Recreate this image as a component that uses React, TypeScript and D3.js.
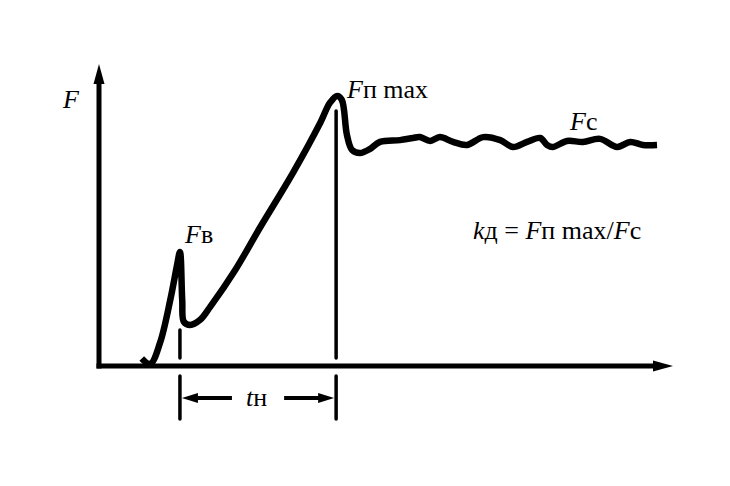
import * as d3 from "d3";

// curve points: t (time units), F (force units)
const curveT = [7.5, 9.0, 10.7, 12.5, 13.7, 14.2, 14.6, 14.9, 16.0, 17.7, 19.5, 23.9, 28.2, 34.0, 38.8, 40.5, 41.8, 42.6, 43.5, 44.4, 45.8, 47.5,
  49.3, 52.8, 55.1, 56.3, 58.1, 59.8, 62.1, 64.6, 67.4, 70.4, 72.6, 75.1, 77.4, 78.6, 79.6, 82.1, 84.9, 87.9, 90.9, 93.2, 95.4, 97.9];
const curveF = [2.5, 0.7, 7.7, 22, 33.7, 38, 22, 14.7, 13.7, 15.3, 19.7, 32, 46, 64.3, 81, 87.7, 90, 88.7, 77, 72, 71, 72.3,
  74.7, 75.3, 76, 76.3, 75, 76.3, 74.7, 73.7, 76.3, 75.3, 73, 74.7, 76, 73.7, 73, 75, 74.7, 75.7, 73, 74.7, 73.7, 73.7];

const tB = 14.2;      // Fв moment
const tMax = 41.6;    // Fп max moment
const dimF = -10.7;   // dimension line level

const W = 730;
const H = 486;

const x = d3.scaleLinear().domain([0, 100]).range([99, 669]);
const y = d3.scaleLinear().domain([0, 100]).range([366, 66]);

const font = "Liberation Serif, DejaVu Serif, serif";

export default function App() {
  const pts = curveT.map((t, i) => [t, curveF[i]] as [number, number]);
  const line = d3.line<[number, number]>()
    .x(d => x(d[0]))
    .y(d => y(d[1]))
    .curve(d3.curveCatmullRom.alpha(0.5));

  const x0 = x(0), y0 = y(0);
  const yTop = 64, xEnd = 673;
  const yd = y(dimF);

  return (
    <svg width={W} height={H} style={{ position: "absolute", left: 0, top: 0, background: "#fff" }}>
      {/* axes */}
      <line x1={x0} y1={y0 + 2.5} x2={x0} y2={yTop + 14} stroke="#000" strokeWidth={5} />
      <path d={`M${x0},${yTop} L${x0 - 5.5},${yTop + 20} L${x0 + 5.5},${yTop + 20} Z`} fill="#000" />
      <line x1={x0 - 2.5} y1={y0} x2={xEnd - 14} y2={y0} stroke="#000" strokeWidth={5} />
      <path d={`M${xEnd},${y0} L${xEnd - 20},${y0 - 5.5} L${xEnd - 20},${y0 + 5.5} Z`} fill="#000" />

      {/* vertical markers */}
      <line x1={x(tB)} y1={y(12)} x2={x(tB)} y2={y0 - 8} stroke="#000" strokeWidth={3.5} strokeLinecap="round" />
      <line x1={x(tMax)} y1={y(85)} x2={x(tMax)} y2={y0 - 8} stroke="#000" strokeWidth={3.5} strokeLinecap="round" />
      <line x1={x(tB)} y1={y0 + 10} x2={x(tB)} y2={y0 + 53} stroke="#000" strokeWidth={3.5} strokeLinecap="round" />
      <line x1={x(tMax)} y1={y0 + 10} x2={x(tMax)} y2={y0 + 53} stroke="#000" strokeWidth={3.5} strokeLinecap="round" />

      {/* dimension arrows */}
      <line x1={x(tB) + 14} y1={yd} x2={x(tB) + 52} y2={yd} stroke="#000" strokeWidth={4} />
      <path d={`M${x(tB) + 2},${yd} L${x(tB) + 18},${yd - 5} L${x(tB) + 18},${yd + 5} Z`} fill="#000" />
      <line x1={x(tMax) - 52} y1={yd} x2={x(tMax) - 14} y2={yd} stroke="#000" strokeWidth={4} />
      <path d={`M${x(tMax) - 2},${yd} L${x(tMax) - 18},${yd - 5} L${x(tMax) - 18},${yd + 5} Z`} fill="#000" />

      {/* curve */}
      <path d={line(pts) ?? ""} fill="none" stroke="#000" strokeWidth={6.5} strokeLinejoin="round" strokeLinecap="butt" />

      {/* labels */}
      <g style={{ fontFamily: font, fontSize: 26 }} fill="#000">
        <text x={63} y={108}><tspan fontStyle="italic">F</tspan></text>
        <text x={185} y={243}><tspan fontStyle="italic">F</tspan>в</text>
        <text x={347} y={98}><tspan fontStyle="italic">F</tspan>п max</text>
        <text x={570} y={130}><tspan fontStyle="italic">F</tspan>с</text>
        <text x={473} y={239}><tspan fontStyle="italic">k</tspan>д = <tspan fontStyle="italic">F</tspan>п max/<tspan fontStyle="italic">F</tspan>с</text>
        <text x={246} y={406}><tspan fontStyle="italic">t</tspan>н</text>
      </g>
    </svg>
  );
}
